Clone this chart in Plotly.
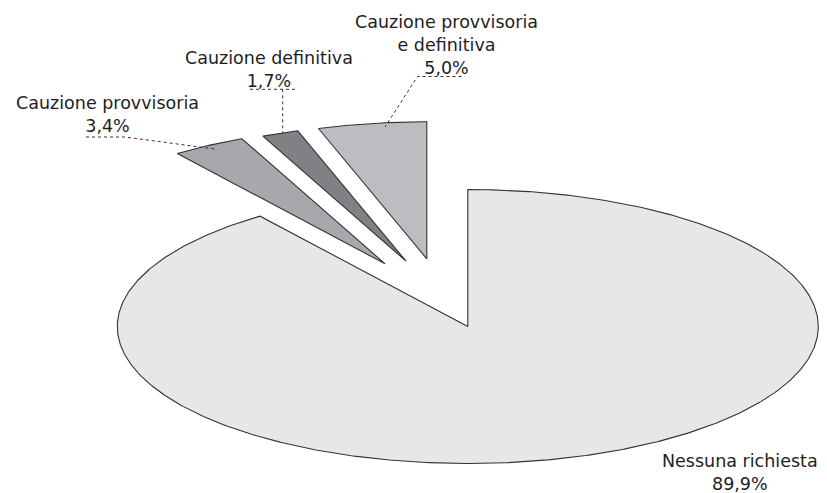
import numpy as np
import plotly.graph_objects as go

# ---- data ----
labels = ["Cauzione provvisoria e definitiva", "Cauzione definitiva",
          "Cauzione provvisoria", "Nessuna richiesta"]
values = [5.0, 1.7, 3.4, 89.9]
value_text = ["5,0%", "1,7%", "3,4%", "89,9%"]
label_text = ["Cauzione provvisoria<br>e definitiva", "Cauzione definitiva",
              "Cauzione provvisoria", "Nessuna richiesta"]

# ---- style / layout ----
colors = ["#bcbdc0", "#808184", "#a7a8ab", "#e6e7e9"]
explode = [(-41, -67.7), (-61.7, -65.3), (-82.7, -62.7), (0, 0)]
CX, CY, RX, RY = 467.8, 326.5, 350.5, 137.0
START = 90.0
W, H = 827, 493
PAGE_OFF = 8  # default body margin of the html page
FONT = "DejaVu Sans, Liberation Sans, Arial, sans-serif"
FS = 17.5
TXT = "#1e1e1e"
# label block placement: (center x, first baseline, last baseline)
label_pos = [(446.5, 30.0, 73.3), (269.0, 65.7, 86.7), (107.5, 110.0, 131.5), (740.0, 468.0, 489.0)]

fig = go.Figure()

total = sum(values)
a0 = START
for lab, v, col, (ox, oy) in zip(labels, values, colors, explode):
    a1 = a0 + 360.0 * v / total
    th = np.radians(np.linspace(a0, a1, max(8, int(abs(a1 - a0) * 2))))
    cx, cy = CX + ox, CY + oy
    xs = [cx] + list(cx + RX * np.cos(th)) + [cx]
    ys = [cy] + list(cy - RY * np.sin(th)) + [cy]
    fig.add_trace(go.Scatter(x=xs, y=ys, mode="lines", fill="toself",
                             fillcolor=col, line=dict(color="#333333", width=1.1),
                             hoverinfo="skip", showlegend=False, name=lab))
    a0 = a1

for lt, vt, (x, b1, bn) in zip(label_text, value_text, label_pos):
    fig.add_annotation(x=x, y=(b1 + bn) / 2 - 0.36 * FS, text=lt + "<br>" + vt,
                       showarrow=False, xanchor="center", yanchor="middle",
                       align="center", font=dict(family=FONT, size=FS, color=TXT))

# leader lines
leaders = [
    [(86, 137), (125, 137), (216.7, 149.3)],
    [(250, 89.3), (295, 89.3)], [(282.7, 89.3), (282.7, 133.3)],
    [(461.5, 76.5), (417.5, 76.5), (385, 127)],
]
for seg in leaders:
    fig.add_trace(go.Scatter(x=[p[0] for p in seg], y=[p[1] for p in seg],
                             mode="lines", line=dict(color="#333333", width=1, dash="dot"),
                             hoverinfo="skip", showlegend=False))

fig.update_layout(width=W - PAGE_OFF, height=H - PAGE_OFF, margin=dict(l=0, r=0, t=0, b=0),
                  paper_bgcolor="white", plot_bgcolor="white",
                  xaxis=dict(range=[PAGE_OFF, W], visible=False, fixedrange=True),
                  yaxis=dict(range=[H, PAGE_OFF], visible=False, fixedrange=True))
fig.write_html("out.html")
